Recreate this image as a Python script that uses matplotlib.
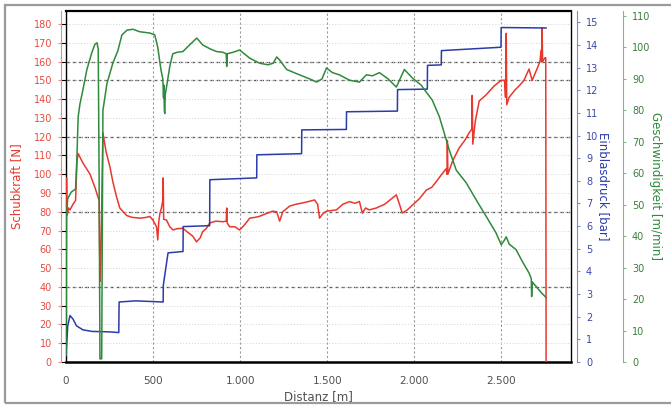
import matplotlib
matplotlib.use('Agg')
import matplotlib.pyplot as plt
from matplotlib.patches import Rectangle

plt.rcParams["font.family"] = ['DejaVu Sans']

# Schubkraft [N]
red_d = [0, 3, 6, 15, 23, 40, 55, 63, 70, 97, 138, 166, 183, 190, 193, 196, 200, 206, 212, 230,
         252, 269, 290, 309, 348, 380, 424, 460, 481, 499, 520, 527, 533, 539, 548, 556, 558, 561,
         577, 596, 615, 640, 671, 700, 728, 749, 770, 785, 805, 825, 860, 900, 920, 923, 926, 940,
         970, 997, 1025, 1055, 1085, 1112, 1150, 1186, 1210, 1227, 1245, 1284, 1320, 1358, 1395,
         1427, 1445, 1456, 1475, 1496, 1553, 1590, 1628, 1660, 1685, 1702, 1720, 1742, 1782, 1830,
         1870, 1897, 1915, 1931, 1960, 1989, 2030, 2069, 2100, 2126, 2150, 2184, 2188, 2190, 2193,
         2220, 2258, 2290, 2315, 2330, 2333, 2336, 2350, 2373, 2410, 2459, 2499, 2518, 2524, 2528,
         2531, 2545, 2580, 2602, 2630, 2659, 2677, 2700, 2722, 2728, 2731, 2734, 2737, 2751, 2755, 2757]
red_n = [60, 98, 78, 82, 81, 84, 86, 107, 111, 106, 100, 93, 88, 86, 60, 43, 55, 90, 122, 112,
         104, 96, 88, 82, 78, 77, 76.6, 77, 77.5, 75.6, 72, 65, 75, 79, 82, 86, 98, 76,
         75.6, 72, 70.3, 71, 71.2, 69, 67, 64, 66, 69.4, 71, 74, 75, 74.7, 75, 82, 74, 72,
         72, 70.3, 73, 76.6, 77, 77.6, 79, 80.3, 80, 75, 80, 83, 84, 84.7, 85.5,
         86.3, 84, 76.6, 79, 80.3, 81, 84, 85.4, 84.5, 85.5, 79.3, 82, 81, 82, 84,
         87, 89, 84, 79.3, 81, 83.5, 87, 91.5, 93, 96, 99, 103, 100, 118, 100,
         107, 114, 118, 122, 124, 142, 116, 128, 139, 142, 147, 150, 150, 141, 175,
         137, 141, 145, 147, 150, 156, 150, 155, 160, 166, 160, 178, 160, 162, 162, 0]

# Einblasdruck [bar]
blue_d = [0, 10, 23, 40, 60, 97, 150, 250, 303, 305, 400, 558, 559, 586, 672, 673, 825, 826,
          1095, 1096, 1353, 1354, 1610, 1611, 1903, 1904, 2075, 2076, 2155, 2156, 2498, 2499, 2757]
blue_p = [0.3, 1.6, 2.05, 1.9, 1.6, 1.42, 1.35, 1.33, 1.3, 2.65, 2.7, 2.65, 3.4, 4.82, 4.88, 5.98,
          6.02, 8.05, 8.13, 9.15, 9.2, 10.25, 10.27, 11.05, 11.08, 12.03, 12.05, 13.1, 13.12, 13.75,
          13.9, 14.77, 14.75]

# Geschwindigkeit [m/min]
green_d = [0, 3, 10, 30, 55, 62, 70, 80, 97, 120, 149, 166, 178, 185, 190, 195, 205, 212, 235,
           269, 298, 321, 350, 384, 424, 481, 510, 527, 545, 556, 560, 562, 565, 567, 570, 579,
           596, 613, 640, 671, 728, 751, 785, 830, 865, 900, 920, 923, 926, 960, 997, 1055, 1112,
           1160, 1190, 1210, 1227, 1267, 1341, 1400, 1439, 1470, 1496, 1530, 1570, 1628, 1685,
           1725, 1760, 1800, 1850, 1897, 1943, 1989, 2040, 2069, 2103, 2144, 2172, 2201, 2241,
           2298, 2356, 2413, 2470, 2499, 2515, 2528, 2545, 2585, 2620, 2659, 2672, 2674, 2677,
           2700, 2730, 2757]
green_v = [2, 47, 52, 54, 55, 64, 78, 82, 86.5, 93, 98.5, 101, 101.5, 99.5, 60, 1, 1, 80, 88.5,
           95, 99, 104, 105.5, 105.8, 105, 104.6, 104, 100, 93, 90, 84, 88, 80, 79, 85, 88,
           94, 98, 98.5, 98.7, 101.8, 103, 100.8, 99.5, 98.7, 98.5, 98, 94, 98, 98.5, 99.2, 96.6, 95,
           94.5, 95, 97, 96, 93, 91.3, 90, 89, 90, 93.5, 92, 91.3, 89.6, 89,
           91.3, 91, 92, 90, 87.4, 93, 90.3, 88, 85.8, 83.3, 78, 72.8, 67.4, 61,
           57, 51.5, 46.3, 41, 37.3, 38.5, 39.8, 37.5, 35.7, 32, 28.3, 26.5, 20.8, 25.5,
           24, 22, 20.5]

x_ticks = [0, 500, 1000, 1500, 2000, 2500]
x_tick_labels = ["0", "500", "1.000", "1.500", "2.000", "2.500"]
red_ticks = list(range(0, 181, 10))
blue_ticks = list(range(0, 16))
green_ticks = list(range(0, 111, 10))
dark_lines = [40, 80, 120, 150, 160]

c_red = '#e8382e'
c_blue = '#2a3caa'
c_green = '#2f8a3c'

fig = plt.figure(figsize=(6.71, 4.05), dpi=100)
ax = fig.add_axes([66/671, 43/405, 505/671, 351/405])
ax.set_xlim(0, 2900)
ax.set_ylim(0, 186.9)

# gitter
ax.set_yticks(red_ticks)
ax.set_xticks(x_ticks)
ax.set_xticklabels(x_tick_labels)
ax.grid(axis='y', color='#d4d4d4', linestyle=(0, (1, 2)), lw=0.7)
ax.grid(axis='x', color='#9a9a9a', linestyle=(0, (2, 2)), lw=0.8)
for v in dark_lines:
    ax.axhline(v, color='#555555', linestyle=(0, (3, 2)), lw=0.9, zorder=1)
ax.tick_params(axis='y', left=False, labelleft=False)
ax.tick_params(axis='x', length=0, pad=10, labelsize=7.5, labelcolor='#505050')
ax.set_xlabel('Distanz [m]', fontsize=8.5, color='#505050', labelpad=3)

for s in ['left', 'right']:
    ax.spines[s].set_color('black')
    ax.spines[s].set_linewidth(1)
ax.spines['top'].set_linewidth(1.6)
ax.spines['bottom'].set_linewidth(1.8)

ax.plot(red_d, red_n, color=c_red, lw=1.1, zorder=3)

# rote Achse links
ax_r = ax.twinx()
ax_r.set_ylim(0, 186.9)
ax_r.set_yticks(red_ticks)
ax_r.yaxis.tick_left()
ax_r.yaxis.set_label_position('left')
for s in ['top', 'bottom', 'right']:
    ax_r.spines[s].set_visible(False)
ax_r.spines['left'].set_position(('outward', 3.6))
ax_r.spines['left'].set_color('#f08a80')
ax_r.tick_params(axis='y', colors='#f08a80', labelcolor='#e84a40', length=2.5, pad=4, labelsize=7)
ax_r.set_ylabel('Schubkraft [N]', color=c_red, fontsize=8.5)
ax_r.yaxis.set_label_coords(-0.085, 0.5)

# Einblasdruck
ax_b = ax.twinx()
ax_b.set_ylim(0, 15.5)
ax_b.set_yticks(blue_ticks)
for s in ['top', 'bottom', 'left']:
    ax_b.spines[s].set_visible(False)
ax_b.spines['right'].set_position(('outward', 4.3))
ax_b.spines['right'].set_color('#8088c8')
ax_b.tick_params(axis='y', colors='#8088c8', labelcolor='#3a48a8', length=2.5, pad=4, labelsize=7)
ax_b.set_ylabel('Einblasdruck [bar]', color=c_blue, fontsize=8.5, rotation=-90)
ax_b.yaxis.set_label_coords(1.077, 0.5)
ax_b.plot(blue_d, blue_p, color=c_blue, lw=1.1)

# Geschwindigkeit
ax_g = ax.twinx()
ax_g.set_ylim(0, 111.6)
ax_g.set_yticks(green_ticks)
for s in ['top', 'bottom', 'left']:
    ax_g.spines[s].set_visible(False)
ax_g.spines['right'].set_position(('outward', 37.4))
ax_g.spines['right'].set_color('#80b888')
ax_g.tick_params(axis='y', colors='#80b888', labelcolor='#3d7d3d', length=2.5, pad=4, labelsize=7)
ax_g.set_ylabel('Geschwindigkeit [m/min]', color=c_green, fontsize=8.5, rotation=-90)
ax_g.yaxis.set_label_coords(1.18, 0.5)
ax_g.plot(green_d, green_v, color=c_green, lw=1.1)

# Rahmen
fig.patches.append(Rectangle((5/671, 2/405), 680/671, 398/405, transform=fig.transFigure,
                             fill=False, edgecolor='#9a9a9a', lw=1.6))

fig.savefig('out.png', dpi=100)
